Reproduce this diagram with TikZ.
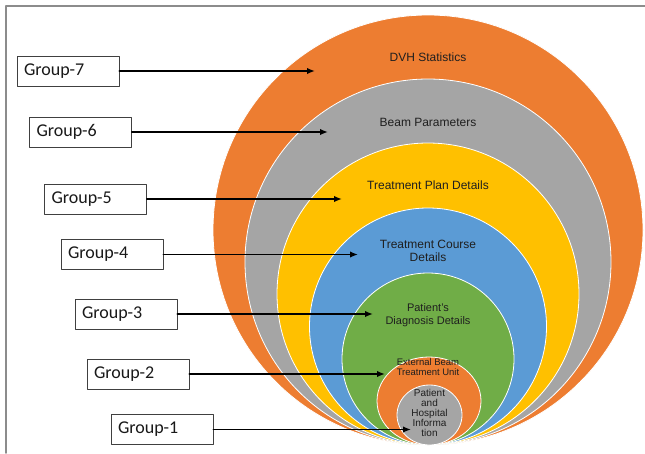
\documentclass[tikz,border=0pt]{standalone}
\usepackage{fontspec}
\setmainfont{Liberation Sans}
\newfontfamily\grpfont{Carlito}
\usepackage{tikz}
\usetikzlibrary{arrows.meta,positioning}
\definecolor{rgorange}{HTML}{ED7D31}
\definecolor{rggray}{HTML}{A5A5A5}
\definecolor{rgyellow}{HTML}{FFC000}
\definecolor{rgblue}{HTML}{5B9BD5}
\definecolor{rggreen}{HTML}{70AD47}
\definecolor{framegray}{HTML}{8C8C8C}
\tikzset{
  >={Latex[length=8pt,width=6.5pt]},
  every picture/.style={line cap=round, line join=round},
  ring/.style={draw=white, line width=0.8pt},
  ringlbl/.style={font=\fontsize{12}{13}\selectfont, text=black!88, align=center},
  smallring/.style={font=\fontsize{9.5}{10}\selectfont, text=black!88, align=center, inner sep=0pt},
  grpbox/.style={draw=black!75, line width=0.8pt, fill=white, text=black!90,
    font=\grpfont\fontsize{18}{19}\selectfont, text width=88pt, inner sep=7pt,
    minimum height=30pt, align=left},
  grparrow/.style={->, line width=1.8pt},
}

\begin{document}
\begin{tikzpicture}[x=1pt, y=-1pt]
\useasboundingbox (0,0) rectangle (645,453);
\draw[framegray, line width=1.5pt] (6,453) -- (6,6) -- (645,6);
% rings, outer to inner, all touching at the bottom
\foreach \cy/\r/\c in {230/215/rgorange, 262/183/rggray, 294/151/rgyellow,
    326.5/118.5/rgblue, 359/86/rggreen}
  \filldraw[ring, fill=\c] (428,\cy) circle[radius=\r];
\filldraw[ring, fill=rgorange] (429,401) ellipse[x radius=52, y radius=44];
\filldraw[ring, fill=rggray] (429.5,415) ellipse[x radius=32.5, y radius=30];
% ring texts
\node[ringlbl] (dvh) at (428,57) {DVH Statistics};
\node[ringlbl] (beam) at (428,122) {Beam Parameters};
\node[ringlbl] (plan) at (428,185) {Treatment Plan Details};
\node[ringlbl] (course) at (428,251) {Treatment Course\\Details};
\node[ringlbl, font=\fontsize{11}{13}\selectfont] (diag) at (428,315.5) {Patient's\\Diagnosis Details};
\node[smallring] (unit) at (428,367) {External Beam\\Treatment Unit};
\node[smallring, font=\fontsize{10}{10.2}\selectfont] (info) at (429.5,413) {Patient\\and\\Hospital\\Informa\\tion};
% group boxes and arrows
\foreach \g/\bx/\by/\tx in {7/68/71/315, 6/80.5/132/328, 5/95.5/199/342,
    4/112/254.5/358, 3/126/314/373, 2/138/374/385, 1/162/429.5/411} {
  \node[grpbox] (g\g) at (\bx,\by) {Group-\g};
  \coordinate (t\g) at (\tx,\by);
  \draw[grparrow] (g\g.east) -- (t\g);
}
\end{tikzpicture}
\end{document}
